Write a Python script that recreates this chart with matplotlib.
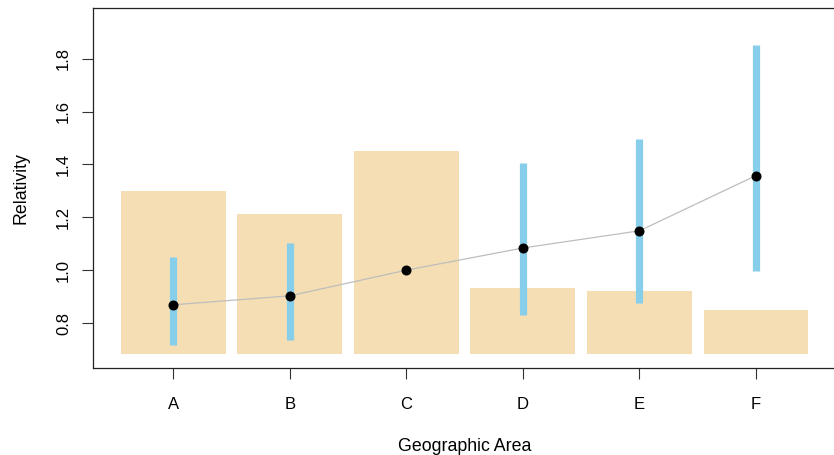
import numpy as np
import matplotlib
matplotlib.use("Agg")
import matplotlib.pyplot as plt

plt.rcParams['font.family'] = ['Liberation Sans', 'DejaVu Sans']

# relativities by area, with interval bounds and exposure bars
areas = ['A', 'B', 'C', 'D', 'E', 'F']
relativity = [0.869, 0.903, 1.0, 1.084, 1.149, 1.358]
lower = [0.715, 0.737, 1.0, 0.832, 0.877, 0.995]
upper = [1.050, 1.103, 1.0, 1.406, 1.497, 1.852]
exposure_bar = [1.300, 1.213, 1.451, 0.933, 0.922, 0.850]
bar_base = 0.681


def main():
    fig = plt.figure(figsize=(8.34, 4.55), dpi=100)
    ax = fig.add_axes([93.3 / 834, 1 - 367.7 / 455,
                       (836 - 93.3) / 834, (367.7 - 8) / 455])

    x = np.arange(1, len(areas) + 1)

    # exposure bars drawn from the axis floor
    heights = np.array(exposure_bar) - bar_base
    ax.bar(x, heights, width=0.9, bottom=bar_base, color='#F5DEB3',
           edgecolor='none', zorder=1)

    # confidence intervals
    for xi, lo, hi in zip(x, lower, upper):
        if hi > lo:
            ax.plot([xi, xi], [lo, hi], color='#87CEEB', lw=5.2,
                    solid_capstyle='butt', zorder=2)

    # relativity line and points
    ax.plot(x, relativity, color='#BEBEBE', lw=0.9, zorder=3)
    ax.plot(x, relativity, 'o', color='black', ms=6.2, zorder=4)

    ax.set_xlim(1 - 80 / 116.6, 6 + 80 / 116.6)
    ax.set_ylim(0.631, 1.992)

    ax.set_xticks(x)
    ax.set_xticklabels(areas)
    ax.set_yticks([0.8, 1.0, 1.2, 1.4, 1.6, 1.8])
    ax.set_yticklabels(['0.8', '1.0', '1.2', '1.4', '1.6', '1.8'],
                       rotation=90, va='center')
    ax.tick_params(axis='both', length=8, width=0.8, labelsize=12,
                   color='#333333')
    ax.tick_params(axis='x', pad=13)
    ax.tick_params(axis='y', pad=8)

    for side in ['left', 'bottom', 'top', 'right']:
        ax.spines[side].set_linewidth(0.9)
        ax.spines[side].set_color('#222222')

    ax.set_xlabel('Geographic Area', fontsize=12.8, labelpad=18.5)
    ax.set_ylabel('Relativity', fontsize=12.8, labelpad=19)

    fig.savefig('out.png', dpi=100)


if __name__ == '__main__':
    main()
